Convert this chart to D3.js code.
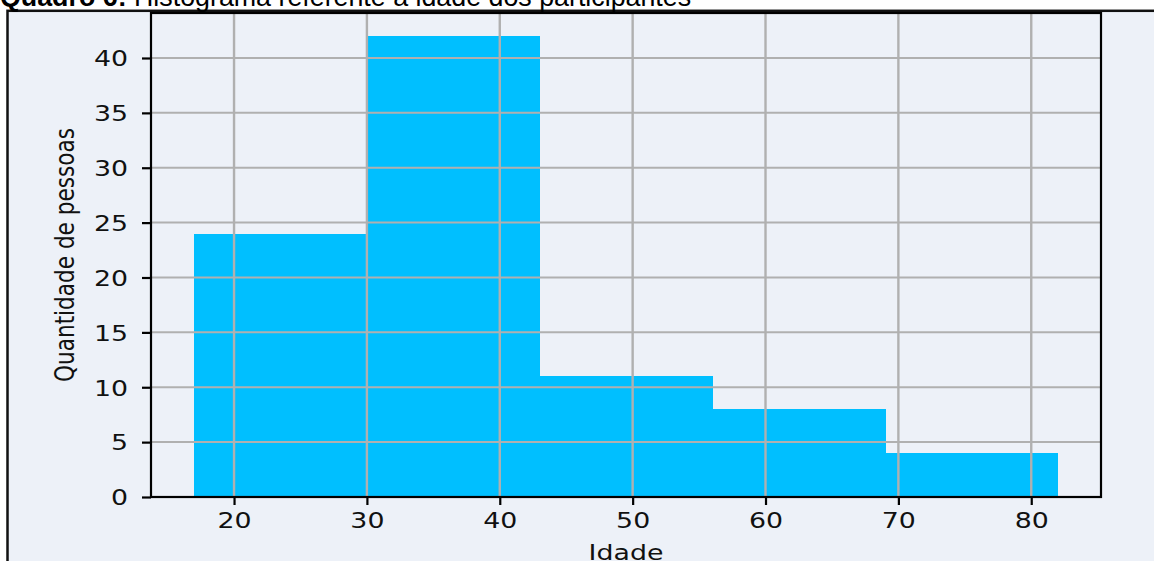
<!DOCTYPE html>
<html>
<head>
<meta charset="utf-8">
<script src="https://cdn.jsdelivr.net/npm/d3@7"></script>
<style>
  html, body { margin: 0; padding: 0; background: #ffffff; overflow: hidden; }
  svg { display: block; }
</style>
</head>
<body>
<svg id="chart" width="1154" height="561"></svg>
<script>
// Histogram of participant ages: bin edges and counts per bin
const binEdges = [17, 30, 43, 56, 69, 82];
const counts = [24, 42, 11, 8, 4];
const xTicks = [20, 30, 40, 50, 60, 70, 80];
const yTicks = [0, 5, 10, 15, 20, 25, 30, 35, 40];
const titleBold = "Quadro 6:";
const titleText = " Histograma referente à idade dos participantes";
const xLabel = "Idade";
const yLabel = "Quantidade de pessoas";

const bins = counts.map((c, i) => ({ x0: binEdges[i], x1: binEdges[i + 1], count: c }));

const W = 1154, H = 561;
const plot = { left: 151, right: 1101, top: 13, bottom: 497 };
const bg = "#edf1f8";
const barColor = "#00bfff";
const gridColor = "#b0b0b0";
const font = "'DejaVu Sans', sans-serif";
const sx = 1.34, sy = 1.08;   // tick/label text is drawn slightly stretched

const svg = d3.select("#chart");

// page backdrop and framed panel
svg.append("rect").attr("width", W).attr("height", H).attr("fill", "#ffffff");
svg.append("rect")
  .attr("x", 7.5).attr("y", 10.8)
  .attr("width", W + 20).attr("height", H + 20)
  .attr("fill", bg).attr("stroke", "#111").attr("stroke-width", 2.5);

// caption above the panel
const cap = svg.append("text")
  .attr("x", 0).attr("y", 5.5)
  .attr("font-family", "'Liberation Sans', Arial, sans-serif")
  .attr("font-size", 26.8).attr("fill", "#000");
cap.append("tspan").attr("font-weight", "bold").text(titleBold);
cap.append("tspan").text(titleText);

// scales
const lo = binEdges[0], hi = binEdges[binEdges.length - 1];
const pad = (hi - lo) * 0.05;
const x = d3.scaleLinear().domain([lo - pad, hi + pad]).range([plot.left, plot.right]);
const yMax = d3.max(counts) * 1.05;
const y = d3.scaleLinear().domain([0, yMax]).range([plot.bottom, plot.top]);

// axes background
svg.append("rect")
  .attr("x", plot.left).attr("y", plot.top)
  .attr("width", plot.right - plot.left).attr("height", plot.bottom - plot.top)
  .attr("fill", bg);

// histogram bars
svg.append("g").attr("shape-rendering", "crispEdges")
  .selectAll("rect").data(bins).join("rect")
  .attr("x", d => x(d.x0))
  .attr("y", d => y(d.count))
  .attr("width", d => x(d.x1) - x(d.x0) + 0.5)
  .attr("height", d => y(0) - y(d.count))
  .attr("fill", barColor);

// grid lines drawn on top of the bars
const grid = svg.append("g").attr("stroke", gridColor).attr("stroke-width", 2);
grid.selectAll(".vg").data(xTicks).join("line")
  .attr("x1", d => x(d)).attr("x2", d => x(d))
  .attr("y1", plot.top).attr("y2", plot.bottom)
  .attr("stroke-width", 2.4);
grid.selectAll(".hg").data(yTicks).join("line")
  .attr("x1", plot.left).attr("x2", plot.right)
  .attr("y1", d => y(d)).attr("y2", d => y(d));

// x axis
const xAxis = svg.append("g")
  .attr("transform", `translate(0,${plot.bottom})`)
  .call(d3.axisBottom(x).tickValues(xTicks).tickSize(8).tickFormat(d3.format("d")));
xAxis.select(".domain").remove();
xAxis.selectAll(".tick line").attr("stroke", "#000").attr("stroke-width", 2.2);
xAxis.selectAll(".tick text").each(function () {
  const t = d3.select(this);
  t.attr("y", null).attr("dy", null)
    .attr("font-family", font).attr("font-size", 20).attr("fill", "#111")
    .attr("text-anchor", "middle")
    .attr("transform", `translate(0,31) scale(${sx},${sy})`);
});

// y axis
const yAxis = svg.append("g")
  .attr("transform", `translate(${plot.left},0)`)
  .call(d3.axisLeft(y).tickValues(yTicks).tickSize(9).tickFormat(d3.format("d")));
yAxis.select(".domain").remove();
yAxis.selectAll(".tick line").attr("stroke", "#000").attr("stroke-width", 2.2);
yAxis.selectAll(".tick text").each(function () {
  const t = d3.select(this);
  t.attr("x", null).attr("dy", null)
    .attr("font-family", font).attr("font-size", 20).attr("fill", "#111")
    .attr("text-anchor", "end")
    .attr("transform", `translate(-23,7.8) scale(${sx},${sy})`);
});

// plot frame (all four spines)
svg.append("rect")
  .attr("x", plot.left).attr("y", plot.top)
  .attr("width", plot.right - plot.left).attr("height", plot.bottom - plot.top)
  .attr("fill", "none").attr("stroke", "#000").attr("stroke-width", 2.2);

// axis titles
svg.append("text")
  .attr("transform", `translate(${(plot.left + plot.right) / 2},560) scale(${sx},${sy})`)
  .attr("text-anchor", "middle")
  .attr("font-family", font).attr("font-size", 20).attr("fill", "#111")
  .text(xLabel);

svg.append("text")
  .attr("transform", `translate(74,${(plot.top + plot.bottom) / 2}) scale(${sx},${sy}) rotate(-90)`)
  .attr("text-anchor", "middle")
  .attr("font-family", font).attr("font-size", 20).attr("fill", "#111")
  .text(yLabel);
</script>
</body>
</html>
